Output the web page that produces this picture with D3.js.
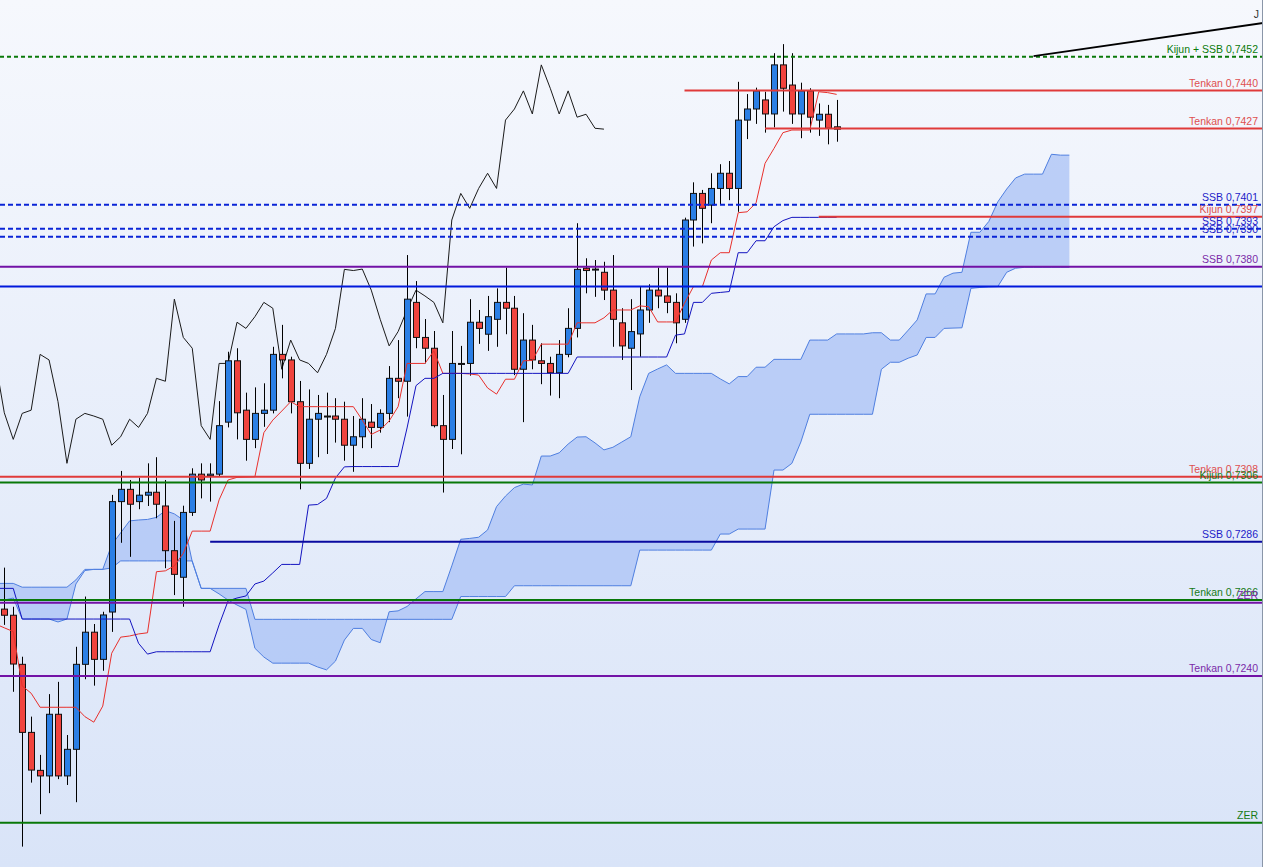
<!DOCTYPE html>
<html>
<head>
<meta charset="UTF-8">
<title>Ichimoku</title>
<script src="https://cdn.jsdelivr.net/npm/d3@7/dist/d3.min.js"></script>
<style>
body { margin: 0; background: #fff; }
text { font-family: "Liberation Sans", Arial, sans-serif; }
</style>
<script>
// candles, one per bar, index 0..93
var opens = [
 0.72629, 0.72608, 0.72440, 0.72207, 0.72077, 0.72058, 0.72269, 0.72058, 0.72149, 0.72440,
 0.72550, 0.72457, 0.72619, 0.72997, 0.73039, 0.72997, 0.73019, 0.73029, 0.72982, 0.72829,
 0.72738, 0.72960, 0.73091, 0.73086, 0.73091, 0.73269, 0.73479, 0.73310, 0.73210, 0.73299,
 0.73310, 0.73501, 0.73482, 0.73339, 0.73128, 0.73279, 0.73288, 0.73290, 0.73279, 0.73190,
 0.73219, 0.73269, 0.73251, 0.73299, 0.73419, 0.73409, 0.73679, 0.73559, 0.73522, 0.73257,
 0.73210, 0.73469, 0.73470, 0.73611, 0.73570, 0.73621, 0.73679, 0.73659, 0.73450, 0.73550,
 0.73479, 0.73470, 0.73438, 0.73501, 0.73590, 0.73796, 0.73792, 0.73782, 0.73721, 0.73609,
 0.73522, 0.73571, 0.73653, 0.73721, 0.73701, 0.73679, 0.73621, 0.73961, 0.74052, 0.74012,
 0.74069, 0.74121, 0.74069, 0.74303, 0.74341, 0.74372, 0.74324, 0.74492, 0.74423, 0.74324,
 0.74403, 0.74303, 0.74323, 0.74280]
var highs = [
 0.72771, 0.72637, 0.72466, 0.72261, 0.72130, 0.72338, 0.72380, 0.72198, 0.72500, 0.72672,
 0.72578, 0.72620, 0.73020, 0.73102, 0.73071, 0.73079, 0.73128, 0.73149, 0.73071, 0.72931,
 0.72983, 0.73111, 0.73128, 0.73128, 0.73341, 0.73510, 0.73522, 0.73370, 0.73388, 0.73402,
 0.73527, 0.73602, 0.73493, 0.73410, 0.73381, 0.73362, 0.73370, 0.73351, 0.73339, 0.73290,
 0.73351, 0.73331, 0.73313, 0.73461, 0.73550, 0.73841, 0.73752, 0.73622, 0.73581, 0.73362,
 0.73581, 0.73530, 0.73690, 0.73653, 0.73701, 0.73727, 0.73798, 0.73701, 0.73642, 0.73602,
 0.73539, 0.73493, 0.73550, 0.73659, 0.73950, 0.73830, 0.73824, 0.73818, 0.73841, 0.73659,
 0.73690, 0.73733, 0.73741, 0.73798, 0.73798, 0.73710, 0.73969, 0.74090, 0.74064, 0.74121,
 0.74152, 0.74163, 0.74434, 0.74392, 0.74414, 0.74400, 0.74532, 0.74563, 0.74532, 0.74431,
 0.74412, 0.74360, 0.74355, 0.74372]
var lows = [
 0.72575, 0.72346, 0.71816, 0.72035, 0.71927, 0.71999, 0.72047, 0.72027, 0.71968, 0.72389,
 0.72367, 0.72418, 0.72551, 0.72856, 0.72808, 0.72971, 0.72982, 0.72940, 0.72769, 0.72677,
 0.72637, 0.72948, 0.73008, 0.72997, 0.73082, 0.73251, 0.73210, 0.73137, 0.73180, 0.73253,
 0.73299, 0.73419, 0.73299, 0.73039, 0.73109, 0.73149, 0.73160, 0.73199, 0.73137, 0.73099,
 0.73180, 0.73180, 0.73233, 0.73269, 0.73351, 0.73288, 0.73522, 0.73470, 0.73251, 0.73028,
 0.73177, 0.73159, 0.73428, 0.73537, 0.73513, 0.73527, 0.73570, 0.73430, 0.73269, 0.73450,
 0.73399, 0.73360, 0.73351, 0.73491, 0.73559, 0.73710, 0.73698, 0.73687, 0.73527, 0.73482,
 0.73379, 0.73493, 0.73609, 0.73659, 0.73642, 0.73539, 0.73609, 0.73870, 0.73881, 0.73950,
 0.74015, 0.74029, 0.73989, 0.74238, 0.74290, 0.74260, 0.74278, 0.74332, 0.74290, 0.74241,
 0.74260, 0.74249, 0.74220, 0.74229]
var closes = [
 0.72608, 0.72441, 0.72207, 0.72078, 0.72058, 0.72269, 0.72058, 0.72149, 0.72440, 0.72550,
 0.72457, 0.72609, 0.72997, 0.73039, 0.72988, 0.73019, 0.73029, 0.72988, 0.72829, 0.72748,
 0.72960, 0.73091, 0.73071, 0.73091, 0.73257, 0.73479, 0.73301, 0.73210, 0.73299, 0.73310,
 0.73501, 0.73482, 0.73339, 0.73128, 0.73279, 0.73299, 0.73290, 0.73279, 0.73190, 0.73219,
 0.73279, 0.73251, 0.73299, 0.73419, 0.73409, 0.73690, 0.73559, 0.73522, 0.73257, 0.73210,
 0.73470, 0.73470, 0.73611, 0.73590, 0.73630, 0.73679, 0.73659, 0.73450, 0.73550, 0.73482,
 0.73470, 0.73438, 0.73501, 0.73590, 0.73792, 0.73788, 0.73793, 0.73721, 0.73621, 0.73530,
 0.73579, 0.73653, 0.73721, 0.73701, 0.73679, 0.73609, 0.73961, 0.74052, 0.74001, 0.74069,
 0.74121, 0.74069, 0.74303, 0.74341, 0.74403, 0.74324, 0.74492, 0.74412, 0.74324, 0.74403,
 0.74313, 0.74323, 0.74275, 0.74272]

// indicator lines start one bar before the first candle
var lineStart = -1
var tenkan = [
 0.72578,
 0.72565, 0.72552, 0.72366, 0.72341, 0.72293, 0.72293, 0.72293, 0.72293, 0.72293, 0.72261,
 0.72242, 0.72297, 0.72478, 0.72533, 0.72537, 0.72544, 0.72548, 0.72757, 0.72760, 0.72777,
 0.72820, 0.72896, 0.72896, 0.72896, 0.73003, 0.73071, 0.73080, 0.73081, 0.73082, 0.73233,
 0.73276, 0.73307, 0.73339, 0.73322, 0.73322, 0.73322, 0.73322, 0.73322, 0.73322, 0.73322,
 0.73276, 0.73227, 0.73242, 0.73273, 0.73322, 0.73470, 0.73470, 0.73470, 0.73513, 0.73436,
 0.73436, 0.73436, 0.73434, 0.73430, 0.73386, 0.73365, 0.73416, 0.73416, 0.73479, 0.73480,
 0.73536, 0.73536, 0.73536, 0.73536, 0.73609, 0.73609, 0.73609, 0.73626, 0.73653, 0.73653,
 0.73653, 0.73667, 0.73664, 0.73612, 0.73612, 0.73612, 0.73676, 0.73733, 0.73733, 0.73824,
 0.73849, 0.73849, 0.73986, 0.73989, 0.74020, 0.74155, 0.74206, 0.74260, 0.74269, 0.74269,
 0.74269, 0.74400, 0.74397, 0.74391]
var kijun = [
 0.72700,
 0.72700, 0.72700, 0.72595, 0.72595, 0.72595, 0.72595, 0.72595, 0.72595, 0.72595, 0.72595,
 0.72595, 0.72595, 0.72595, 0.72595, 0.72595, 0.72512, 0.72475, 0.72483, 0.72483, 0.72483,
 0.72483, 0.72483, 0.72483, 0.72483, 0.72575, 0.72657, 0.72667, 0.72674, 0.72715, 0.72725,
 0.72753, 0.72782, 0.72782, 0.72782, 0.72985, 0.72987, 0.73008, 0.73078, 0.73116, 0.73117,
 0.73117, 0.73117, 0.73117, 0.73117, 0.73117, 0.73249, 0.73394, 0.73419, 0.73419, 0.73436,
 0.73436, 0.73436, 0.73436, 0.73436, 0.73436, 0.73436, 0.73436, 0.73436, 0.73436, 0.73436,
 0.73436, 0.73436, 0.73436, 0.73436, 0.73492, 0.73492, 0.73492, 0.73492, 0.73492, 0.73492,
 0.73492, 0.73492, 0.73492, 0.73492, 0.73492, 0.73567, 0.73571, 0.73679, 0.73679, 0.73710,
 0.73713, 0.73716, 0.73849, 0.73849, 0.73890, 0.73890, 0.73938, 0.73959, 0.73970, 0.73970,
 0.73970, 0.73970, 0.73970, 0.73970]
// cloud spans, already shifted forward, bars -1..119
var spanA = [
 0.72717,
 0.72717, 0.72717, 0.72704, 0.72704, 0.72704, 0.72704, 0.72704, 0.72704, 0.72729, 0.72765,
 0.72765, 0.72765, 0.72849, 0.72890, 0.72931, 0.72934, 0.72936, 0.72943, 0.72966, 0.72955,
 0.72934, 0.72791, 0.72700, 0.72700, 0.72700, 0.72700, 0.72700, 0.72700, 0.72594, 0.72594,
 0.72594, 0.72594, 0.72594, 0.72594, 0.72594, 0.72594, 0.72594, 0.72594, 0.72594, 0.72594,
 0.72594, 0.72594, 0.72594, 0.72594, 0.72594, 0.72594, 0.72594, 0.72594, 0.72594, 0.72594,
 0.72594, 0.72672, 0.72672, 0.72672, 0.72672, 0.72672, 0.72672, 0.72709, 0.72709, 0.72709,
 0.72709, 0.72709, 0.72709, 0.72709, 0.72709, 0.72709, 0.72709, 0.72709, 0.72709, 0.72709,
 0.72709, 0.72831, 0.72831, 0.72831, 0.72831, 0.72831, 0.72831, 0.72831, 0.72831, 0.72831,
 0.72886, 0.72886, 0.72903, 0.72903, 0.72903, 0.72903, 0.73105, 0.73105, 0.73128, 0.73201,
 0.73296, 0.73296, 0.73296, 0.73296, 0.73296, 0.73296, 0.73296, 0.73296, 0.73450, 0.73474,
 0.73474, 0.73488, 0.73499, 0.73559, 0.73559, 0.73590, 0.73591, 0.73592, 0.73727, 0.73730,
 0.73732, 0.73733, 0.73782, 0.73796, 0.73799, 0.73799, 0.73799, 0.73799, 0.73799, 0.73799]
var spanB = [
 0.72660,
 0.72660, 0.72667, 0.72595, 0.72595, 0.72595, 0.72595, 0.72585, 0.72595, 0.72715, 0.72761,
 0.72765, 0.72765, 0.72770, 0.72794, 0.72794, 0.72794, 0.72794, 0.72794, 0.72794, 0.72794,
 0.72794, 0.72794, 0.72700, 0.72700, 0.72681, 0.72660, 0.72643, 0.72628, 0.72495, 0.72465,
 0.72444, 0.72444, 0.72444, 0.72444, 0.72444, 0.72431, 0.72421, 0.72451, 0.72523, 0.72563,
 0.72563, 0.72525, 0.72514, 0.72620, 0.72623, 0.72638, 0.72664, 0.72689, 0.72689, 0.72689,
 0.72777, 0.72868, 0.72871, 0.72875, 0.72900, 0.72980, 0.73016, 0.73045, 0.73057, 0.73054,
 0.73153, 0.73153, 0.73164, 0.73194, 0.73218, 0.73219, 0.73198, 0.73174, 0.73183, 0.73201,
 0.73219, 0.73356, 0.73436, 0.73451, 0.73465, 0.73436, 0.73436, 0.73436, 0.73436, 0.73436,
 0.73417, 0.73400, 0.73425, 0.73425, 0.73457, 0.73457, 0.73484, 0.73484, 0.73484, 0.73484,
 0.73550, 0.73550, 0.73550, 0.73571, 0.73571, 0.73571, 0.73571, 0.73575, 0.73575, 0.73550,
 0.73550, 0.73584, 0.73619, 0.73708, 0.73708, 0.73765, 0.73779, 0.73782, 0.73919, 0.73919,
 0.73956, 0.74023, 0.74067, 0.74105, 0.74118, 0.74118, 0.74118, 0.74186, 0.74183, 0.74183]
var chikouShift = 26

// horizontal levels drawn on the chart
var levelLabels = ["Kijun + SSB 0,7452", "Tenkan 0,7440", "Tenkan 0,7427", "SSB 0,7401", "Kijun 0,7397",
  "SSB 0,7393", "SSB 0,7390", "SSB 0,7380", "", "Tenkan 0,7308", "Kijun 0,7306", "SSB 0,7286",
  "Tenkan 0,7266", "ZER", "Tenkan 0,7240", "ZER"]
var levelPrices = [0.74520, 0.74404, 0.74274, 0.74013, 0.73972, 0.73931, 0.73904, 0.73801, 0.73733,
  0.73082, 0.73062, 0.72860, 0.72660, 0.72651, 0.72400, 0.71898]
var levelFrom = [null, 76, 85, null, 91, null, null, null, null, null, null, 23, null, null, null, null]
var levelKind = ["greenDash", "red", "red", "blueDash", "red", "blueDash", "blueDash", "purple", "blue",
  "red", "green", "navy", "green", "purple", "purple", "green"]

var trendJ = [ {i: 115, p: 0.74522}, {i: 141, p: 0.74637} ]
</script>
</head>
<body>
<div id="chart"></div>
<script>
var width = 1263, height = 867

var kinds = {
  greenDash: { line: "#0a7a0a", text: "#0a7a0a", dash: "4,3" },
  red:       { line: "#e03a3a", text: "#de4f4f", dash: null },
  blueDash:  { line: "#0a24d6", text: "#1c1cc8", dash: "5,3" },
  purple:    { line: "#7212a6", text: "#7a2aa8", dash: null },
  blue:      { line: "#0018dc", text: "#0018dc", dash: null },
  navy:      { line: "#0a0aa0", text: "#1c1cc8", dash: null },
  green:     { line: "#087808", text: "#167a16", dash: null }
}

var x = d3.scaleLinear().domain([0, 93]).range([4.3, 836.65])
var y = d3.scaleLinear().domain([0.717462, 0.747141]).range([height, 0])

var svg = d3.select("#chart").append("svg")
  .attr("width", width)
  .attr("height", height)

var grad = svg.append("defs").append("linearGradient")
  .attr("id", "bg").attr("x1", 0).attr("y1", 0).attr("x2", 0).attr("y2", 1)
grad.append("stop").attr("offset", "0%").attr("stop-color", "#f6f8fd")
grad.append("stop").attr("offset", "100%").attr("stop-color", "#d9e4f8")

svg.append("rect").attr("width", width).attr("height", height).attr("fill", "url(#bg)")

// cloud
var cloud = spanA.map(function(a, k) { return { i: k + lineStart, a: a, b: spanB[k] } })
svg.append("path")
  .datum(cloud)
  .attr("d", d3.area()
    .x(function(d) { return x(d.i) })
    .y0(function(d) { return y(d.b) })
    .y1(function(d) { return y(d.a) }))
  .attr("fill", "#a9c2f6")
  .attr("fill-opacity", 0.75)
  .attr("stroke", "none")

var ln = d3.line().x(function(d) { return x(d.i) }).y(function(d) { return y(d.v) })

function series(arr, start) {
  return arr.map(function(v, k) { return { i: k + start, v: v } })
}

svg.append("path").datum(series(spanA, lineStart)).attr("d", ln)
  .attr("fill", "none").attr("stroke", "#4f7fe0").attr("stroke-width", 1)
svg.append("path").datum(series(spanB, lineStart)).attr("d", ln)
  .attr("fill", "none").attr("stroke", "#4f7fe0").attr("stroke-width", 1)

// chikou: closes plotted 26 bars back
var chikou = closes.map(function(c, k) { return { i: k - chikouShift, v: c } })
  .filter(function(d) { return d.i >= -1 })
svg.append("path").datum(chikou).attr("d", ln)
  .attr("fill", "none").attr("stroke", "#1a1a1a").attr("stroke-width", 1)

// candles
var bars = d3.range(opens.length).map(function(k) {
  return { i: k, o: opens[k], h: highs[k], l: lows[k], c: closes[k] }
})
var candles = svg.append("g").selectAll("g").data(bars).enter().append("g")

candles.append("line")
  .attr("x1", function(d) { return Math.round(x(d.i)) + 0.5 })
  .attr("x2", function(d) { return Math.round(x(d.i)) + 0.5 })
  .attr("y1", function(d) { return y(d.h) })
  .attr("y2", function(d) { return y(d.l) })
  .attr("stroke", "#000").attr("stroke-width", 1)

candles.append("rect")
  .attr("x", function(d) { return Math.round(x(d.i)) - 2.5 })
  .attr("width", 6)
  .attr("y", function(d) { return y(Math.max(d.o, d.c)) })
  .attr("height", function(d) { return Math.max(1, Math.abs(y(d.o) - y(d.c))) })
  .attr("fill", function(d) { return d.c >= d.o ? "#2b7fe5" : "#f0443e" })
  .attr("stroke", "#111").attr("stroke-width", 1)

// tenkan / kijun
svg.append("path").datum(series(tenkan, lineStart)).attr("d", ln)
  .attr("fill", "none").attr("stroke", "#e8302c").attr("stroke-width", 1)
svg.append("path").datum(series(kijun, lineStart)).attr("d", ln)
  .attr("fill", "none").attr("stroke", "#1414c0").attr("stroke-width", 1)

// horizontal levels
var levels = levelPrices.map(function(p, k) {
  return { p: p, label: levelLabels[k], from: levelFrom[k], kind: kinds[levelKind[k]] }
})
svg.append("g").selectAll("line").data(levels).enter().append("line")
  .attr("x1", function(d) { return d.from == null ? 0 : x(d.from) })
  .attr("x2", width)
  .attr("y1", function(d) { return y(d.p) })
  .attr("y2", function(d) { return y(d.p) })
  .attr("stroke", function(d) { return d.kind.line })
  .attr("stroke-width", 2)
  .attr("stroke-dasharray", function(d) { return d.kind.dash })

svg.append("g").selectAll("text").data(levels.filter(function(d) { return d.label })).enter().append("text")
  .attr("x", width - 5)
  .attr("y", function(d) { return y(d.p) - 4 })
  .attr("text-anchor", "end")
  .attr("font-size", 10.5)
  .attr("fill", function(d) { return d.kind.text })
  .text(function(d) { return d.label })

// trend line J
svg.append("line")
  .attr("x1", x(trendJ[0].i)).attr("y1", y(trendJ[0].p))
  .attr("x2", x(trendJ[1].i)).attr("y2", y(trendJ[1].p))
  .attr("stroke", "#000").attr("stroke-width", 2)
svg.append("text")
  .attr("x", width - 4).attr("y", y(trendJ[1].p) - 5)
  .attr("text-anchor", "end").attr("font-size", 10.5).attr("fill", "#333")
  .text("J")

// right border
svg.append("line").attr("x1", width - 0.5).attr("x2", width - 0.5).attr("y1", 0).attr("y2", height)
  .attr("stroke", "#8a96a8").attr("stroke-width", 1)
</script>
</body>
</html>
